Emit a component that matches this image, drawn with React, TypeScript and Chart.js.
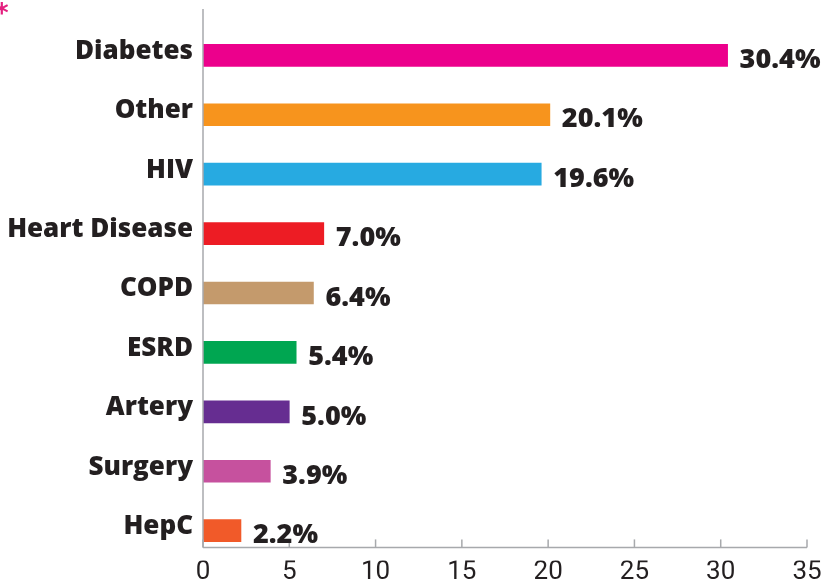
import React, { useEffect, useRef } from "react";
import { Chart, registerables } from "chart.js";

Chart.register(...registerables);

const categories = ["Diabetes", "Other", "HIV", "Heart Disease", "COPD", "ESRD", "Artery", "Surgery", "HepC"];
const values = [30.4, 20.1, 19.6, 7.0, 6.4, 5.4, 5.0, 3.9, 2.2];
const barColors = ["#EC008C", "#F7941D", "#27AAE1", "#ED1C24", "#C49A6C", "#00A651", "#662D91", "#C6519E", "#F15A29"];
const xTicks = [0, 5, 10, 15, 20, 25, 30, 35];

const TEXT = "#231F20";
const AXIS = "#A7A9AC";
const LABEL_FONT = "800 27px 'Open Sans'";

const overlayPlugin = {
  id: "overlay",
  afterDatasetsDraw(chart: any) {
    const { ctx, chartArea, scales } = chart;
    const x = scales.x;
    const axisY = chartArea.bottom - 13;
    ctx.save();
    ctx.strokeStyle = AXIS;
    ctx.lineWidth = 1.5;
    ctx.beginPath();
    ctx.moveTo(chartArea.left, 9);
    ctx.lineTo(chartArea.left, axisY);
    ctx.stroke();
    ctx.beginPath();
    ctx.moveTo(chartArea.left, axisY);
    ctx.lineTo(x.getPixelForValue(35), axisY);
    ctx.stroke();
    xTicks.forEach((t) => {
      const px = x.getPixelForValue(t);
      ctx.beginPath();
      ctx.moveTo(px, axisY - 8);
      ctx.lineTo(px, axisY);
      ctx.stroke();
    });
    const meta = chart.getDatasetMeta(0);
    ctx.fillStyle = TEXT;
    ctx.font = LABEL_FONT;
    ctx.textAlign = "left";
    ctx.textBaseline = "middle";
    meta.data.forEach((bar: any, i: number) => {
      ctx.fillText(values[i].toFixed(1) + "%", bar.x + 12, bar.y + 5);
    });
    ctx.restore();
  },
};

export default function App() {
  const ref = useRef<HTMLCanvasElement | null>(null);
  useEffect(() => {
    document.body.style.margin = "0";
    const chart = new Chart(ref.current as HTMLCanvasElement, {
      type: "bar",
      data: {
        labels: categories,
        datasets: [
          {
            data: values,
            backgroundColor: barColors,
            barThickness: 22,
          },
        ],
      },
      options: {
        indexAxis: "y",
        animation: false,
        responsive: false,
        maintainAspectRatio: false,
        layout: { padding: { top: 22, right: 16, left: 0, bottom: 0 } },
        plugins: { legend: { display: false }, tooltip: { enabled: false } },
        scales: {
          x: {
            min: 0,
            max: 35,
            afterFit: (s: any) => {
              s.height = 20;
            },
            afterBuildTicks: (s: any) => {
              s.ticks = xTicks.map((v) => ({ value: v }));
            },
            grid: { display: false, drawTicks: false },
            border: { display: false },
            ticks: {
              color: TEXT,
              font: { family: "Roboto", size: 26, weight: "normal" },
              padding: -4,
              maxRotation: 0,
            },
          },
          y: {
            afterFit: (s: any) => {
              s.width = 203;
            },
            grid: { display: false, drawTicks: false },
            border: { display: false },
            ticks: {
              color: TEXT,
              font: { family: "Open Sans", size: 26, weight: "800" },
              padding: 10,
              labelOffset: -4,
            },
          },
        },
      },
      plugins: [overlayPlugin],
    });
    return () => chart.destroy();
  }, []);
  return (
    <div style={{ position: "absolute", left: 0, top: 0, width: 823, height: 586, overflow: "hidden" }}>
      <span
        style={{
          position: "absolute",
          left: -5,
          top: 0,
          color: "#E4207F",
          font: "bold 26px 'DejaVu Sans'",
          lineHeight: "26px",
        }}
      >
        *
      </span>
      <canvas ref={ref} width={823} height={586} />
    </div>
  );
}
